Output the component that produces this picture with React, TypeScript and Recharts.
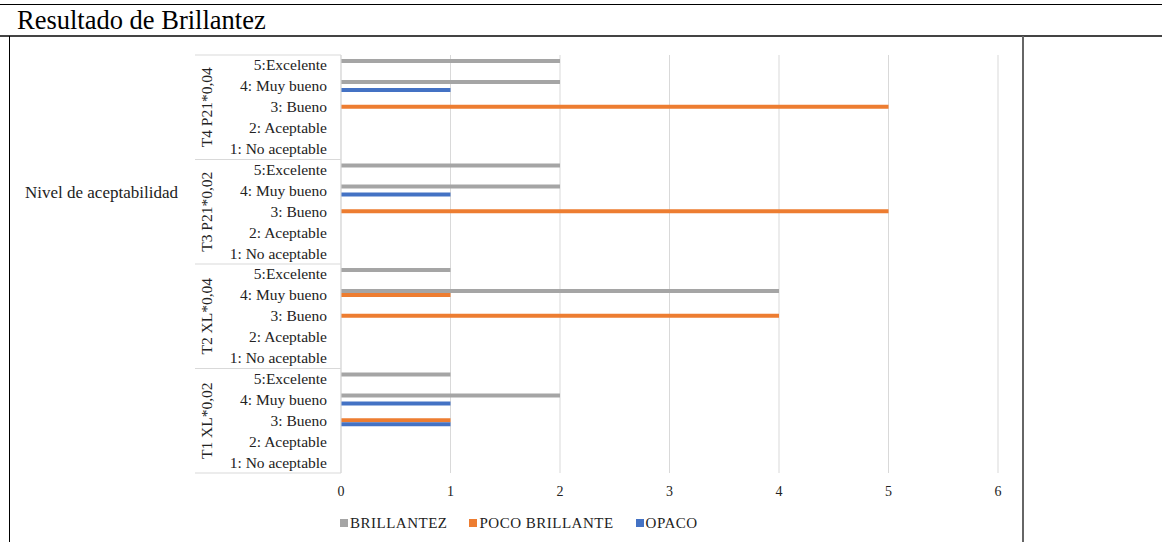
import React from 'react';
import { Bar, BarChart, CartesianGrid, XAxis, YAxis } from 'recharts';

const groups = ['T4 P21*0,04', 'T3 P21*0,02', 'T2 XL*0,04', 'T1 XL*0,02'];
const levels = ['5:Excelente', '4: Muy bueno', '3: Bueno', '2: Aceptable', '1: No aceptable'];

// one value per (group, level), top to bottom; null = empty cell
const brillantez = [2, 2, null, null, null, 2, 2, null, null, null, 1, 4, null, null, null, 1, 2, null, null, null];
const pocoBrillante = [null, null, 5, null, null, null, null, 5, null, null, null, 1, 4, null, null, null, null, 1, null, null];
const opaco = [null, 1, null, null, null, null, 1, null, null, null, null, null, null, null, null, null, 1, 1, null, null];

const xTicks = [0, 1, 2, 3, 4, 5, 6];

const series = [
  { key: 'brillantez', name: 'BRILLANTEZ', color: '#A5A5A5' },
  { key: 'pocoBrillante', name: 'POCO BRILLANTE', color: '#ED7D31' },
  { key: 'opaco', name: 'OPACO', color: '#4472C4' },
];

const rows = groups.flatMap((g, gi) =>
  levels.map((lvl, li) => {
    const i = gi * levels.length + li;
    return {
      cat: `${g}|${lvl}`,
      brillantez: brillantez[i],
      pocoBrillante: pocoBrillante[i],
      opaco: opaco[i],
    };
  }),
);

const serif = '"Liberation Serif", "Times New Roman", serif';
const plotTop = 55;
const plotBottom = 473;
const plotLeft = 341;
const plotRight = 998;
const band = (plotBottom - plotTop) / rows.length;
const gridColor = '#d9d9d9';

function CategoryTick(props: any) {
  const { y, payload, index } = props;
  const [group, level] = String(payload.value).split('|');
  const pos = index % levels.length;
  return (
    <g>
      <text x={327} y={y} dy={5} textAnchor="end" fontSize={15.5} fontFamily={serif} fill="#222">
        {level}
      </text>
      {pos === 0 && <line x1={195} x2={plotLeft} y1={y - band / 2} y2={y - band / 2} stroke={gridColor} />}
      {index === rows.length - 1 && (
        <line x1={195} x2={plotLeft} y1={y + band / 2} y2={y + band / 2} stroke={gridColor} />
      )}
      {pos === 2 && (
        <text
          x={212}
          y={y}
          textAnchor="middle"
          fontSize={15.5}
          fontFamily={serif}
          fill="#222"
          transform={`rotate(-90 212 ${y})`}
        >
          {group}
        </text>
      )}
    </g>
  );
}

function ValueTick(props: any) {
  const { x, y, payload } = props;
  return (
    <text x={x} y={y} dy={15} textAnchor="middle" fontSize={14} fontFamily={serif} fill="#222">
      {payload.value}
    </text>
  );
}

export default function App() {
  return (
    <div style={{ position: 'absolute', left: 0, top: 0, width: 1162, height: 542, background: '#fff', overflow: 'hidden' }}>
      {/* table frame */}
      <div style={{ position: 'absolute', left: 0, top: 4, width: 1162, height: 1, background: '#000' }} />
      <div style={{ position: 'absolute', left: 0, top: 35, width: 1162, height: 2, background: '#444' }} />
      <div style={{ position: 'absolute', left: 9, top: 36, width: 1, height: 506, background: '#000' }} />
      <div style={{ position: 'absolute', left: 1022, top: 36, width: 2, height: 506, background: '#666' }} />
      <div style={{ position: 'absolute', left: 17, top: 4, fontFamily: serif, fontSize: 26.5, color: '#000', lineHeight: '32px' }}>
        Resultado de Brillantez
      </div>
      <div style={{ position: 'absolute', left: 25, top: 183, fontFamily: serif, fontSize: 17, color: '#222', lineHeight: '20px' }}>
        Nivel de aceptabilidad
      </div>

      <div style={{ position: 'absolute', left: 0, top: 0 }}>
        <BarChart
          width={1162}
          height={542}
          data={rows}
          layout="vertical"
          barGap={0}
          barSize={4}
          margin={{ top: plotTop, right: 1162 - plotRight, bottom: 542 - plotBottom - 30, left: 0 }}
        >
          <CartesianGrid horizontal={false} stroke={gridColor} />
          <XAxis
            type="number"
            domain={[0, 6]}
            ticks={xTicks}
            interval={0}
            axisLine={false}
            tickLine={false}
            height={30}
            tick={<ValueTick />}
          />
          <YAxis
            type="category"
            dataKey="cat"
            width={plotLeft}
            interval={0}
            axisLine={{ stroke: gridColor }}
            tickLine={false}
            tick={<CategoryTick />}
          />
          {series.map((s) => (
            <Bar key={s.key} dataKey={s.key} name={s.name} fill={s.color} isAnimationActive={false} />
          ))}
        </BarChart>
      </div>

      {/* legend */}
      <div
        style={{
          position: 'absolute',
          left: 340,
          top: 514,
          display: 'flex',
          gap: 22,
          fontFamily: serif,
          fontSize: 15,
          letterSpacing: 0.5,
          color: '#222',
          lineHeight: '18px',
        }}
      >
        {series.map((s) => (
          <div key={s.key} style={{ display: 'flex', alignItems: 'center' }}>
            <span style={{ display: 'inline-block', width: 8, height: 8, background: s.color, marginRight: 2 }} />
            <span>{s.name}</span>
          </div>
        ))}
      </div>
    </div>
  );
}
